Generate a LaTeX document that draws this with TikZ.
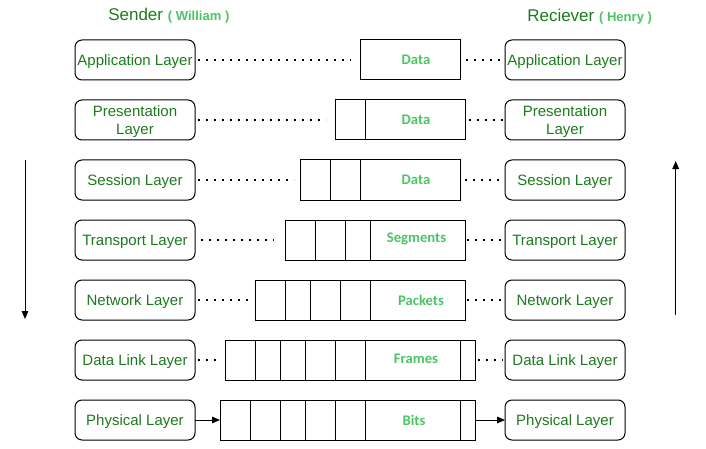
\documentclass[tikz,border=0pt]{standalone}
\usepackage{fontspec}
\setmainfont{Liberation Sans}
\newfontfamily\lblfont{Carlito}
\usetikzlibrary{arrows.meta,calc}
\definecolor{dkgreen}{RGB}{28,122,28}
\definecolor{ltgreen}{RGB}{76,196,102}
\begin{document}
\begin{tikzpicture}[x=0.75pt,y=-0.75pt,
  layerbox/.style={draw=black,line width=0.75pt,rounded corners=5.25pt,minimum width=90pt,minimum height=30pt,inner sep=0pt,outer sep=0pt,align=center,text=dkgreen,font=\fontsize{11.25pt}{13.5pt}\selectfont,text depth=0pt},
  pkt/.style={draw=black,line width=0.75pt,minimum height=30pt,inner sep=0pt,outer sep=0pt},
  pktlbl/.style={text=ltgreen,font=\lblfont\bfseries\fontsize{11pt}{12pt}\selectfont,inner sep=0pt},
  dotline/.style={line width=1.4pt,dash pattern=on 1.3pt off 4.7pt,black},
  arr/.style={line width=0.75pt,-{Triangle[length=6pt,width=5pt]}},
  title/.style={text=dkgreen,font=\fontsize{12.75pt}{15pt}\selectfont,inner sep=0pt}
]
\useasboundingbox (0,0) rectangle (706,449);

% titles
\node[title,anchor=base west] (st) at (108,20.7) {Sender {\color{ltgreen}\bfseries\fontsize{9.8pt}{11pt}\selectfont ( William )}};
\node[title,anchor=base west] (rt) at (527,21.5) {Reciever {\color{ltgreen}\bfseries\fontsize{9.8pt}{11pt}\selectfont ( Henry )}};

% left / right layer boxes
\node[layerbox] (L1) at (135,60) {Application Layer};
\node[layerbox] (L2) at (135,120) {Presentation\\Layer};
\node[layerbox] (L3) at (135,180) {Session Layer};
\node[layerbox] (L4) at (135,240) {Transport Layer};
\node[layerbox] (L5) at (135,300) {Network Layer};
\node[layerbox] (L6) at (135,360) {Data Link Layer};
\node[layerbox] (L7) at (135,420) {Physical Layer};

\node[layerbox] (R1) at (565,60) {Application Layer};
\node[layerbox] (R2) at (565,120) {Presentation\\Layer};
\node[layerbox] (R3) at (565,180) {Session Layer};
\node[layerbox] (R4) at (565,240) {Transport Layer};
\node[layerbox] (R5) at (565,300) {Network Layer};
\node[layerbox] (R6) at (565,360) {Data Link Layer};
\node[layerbox] (R7) at (565,420) {Physical Layer};

% packet boxes
\node[pkt,minimum width=75pt] (D1) at (410,60) {};
\node[pkt,minimum width=97.5pt] (D2) at (400,120) {};
\node[pkt,minimum width=120pt] (D3) at (380,180) {};
\node[pkt,minimum width=135pt] (D4) at (375,240) {};
\node[pkt,minimum width=157.5pt] (D5) at (360,300) {};
\node[pkt,minimum width=187.5pt] (D6) at (350,360) {};
\node[pkt,minimum width=191.25pt] (D7) at (347.5,420) {};

% dividers
\draw[line width=0.75pt] (D2.north west) ++(30,0) -- ++(0,40);
\foreach \d in {30,60} \draw[line width=0.75pt] (D3.north west) ++(\d,0) -- ++(0,40);
\foreach \d in {30,60,85} \draw[line width=0.75pt] (D4.north west) ++(\d,0) -- ++(0,40);
\foreach \d in {30,55,85,115} \draw[line width=0.75pt] (D5.north west) ++(\d,0) -- ++(0,40);
\foreach \d in {30,55,80,110,140,235} \draw[line width=0.75pt] (D6.north west) ++(\d,0) -- ++(0,40);
\foreach \d in {30,60,85,115,145,240} \draw[line width=0.75pt] (D7.north west) ++(\d,0) -- ++(0,40);

% labels
\node[pktlbl] (t1) at (416,60) {Data};
\node[pktlbl] (t2) at (416,120) {Data};
\node[pktlbl] (t3) at (416,180) {Data};
\node[pktlbl] (t4) at (416.5,239) {Segments};
\node[pktlbl] (t5) at (421,300) {Packets};
\node[pktlbl] (t6) at (416,359) {Frames};
\node[pktlbl] (t7) at (414,420) {Bits};

% dotted connectors
\draw[dotline] ($(L1.east)+(3,0)$) -- ($(D1.west)+(-9,0)$);
\draw[dotline] ($(L2.east)+(3,0)$) -- ($(D2.west)+(-9,0)$);
\draw[dotline] ($(L3.east)+(3,0)$) -- ($(D3.west)+(-6,0)$);
\draw[dotline] ($(L4.east)+(6,0)$) -- ($(D4.west)+(-11,0)$);
\draw[dotline] ($(L5.east)+(3,0)$) -- ($(D5.west)+(-2,0)$);
\draw[dotline] ($(L6.east)+(3,0)$) -- ($(D6.west)+(-4,0)$);

\draw[dotline] ($(D1.east)+(6,0)$) -- ($(R1.west)+(-5,0)$);
\draw[dotline] ($(D2.east)+(4,0)$) -- ($(R2.west)+(-2,0)$);
\draw[dotline] ($(D3.east)+(5,0)$) -- ($(R3.west)+(-4,0)$);
\draw[dotline] ($(D4.east)+(2,0)$) -- ($(R4.west)+(-3,0)$);
\draw[dotline] ($(D5.east)+(2,0)$) -- ($(R5.west)+(-3,0)$);
\draw[dotline] ($(D6.east)+(3,0)$) -- ($(R6.west)+(-2,0)$);

% physical arrows
\draw[arr] (L7.east) -- (D7.west);
\draw[arr] (D7.east) -- (R7.west);

% direction arrows
\coordinate (a1) at (25,160);
\coordinate (a2) at (25,319);
\coordinate (b1) at (675.7,315);
\coordinate (b2) at (675.7,161);
\draw[arr] (a1) -- (a2);
\draw[arr] (b1) -- (b2);
\end{tikzpicture}
\end{document}
